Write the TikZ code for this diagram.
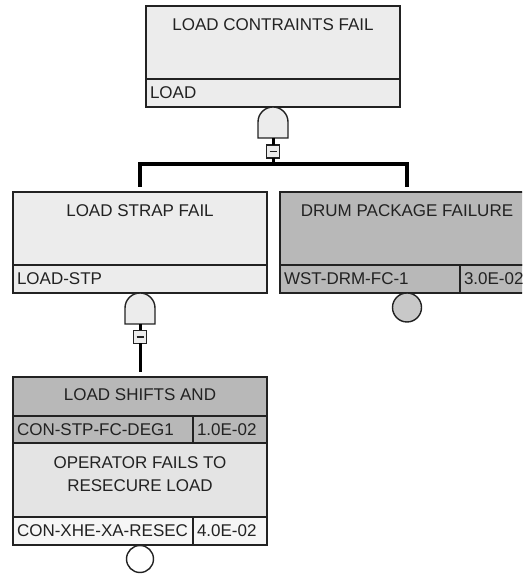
\documentclass[tikz,border=0pt]{standalone}
\usepackage{fontspec}
\setmainfont{Liberation Sans}
\usetikzlibrary{positioning}
\definecolor{colEdge}{RGB}{34,34,34}
\definecolor{colPale}{RGB}{236,236,236}
\definecolor{colGray}{RGB}{184,184,184}
\definecolor{colMid}{RGB}{228,228,228}
\definecolor{colWhite}{RGB}{246,246,246}
\definecolor{colDot}{RGB}{200,200,200}
\tikzset{
  % shared base for every cell
  cell/.style={
    rectangle, draw=colEdge, line width=2pt,
    fill=#1, inner sep=0pt, outer sep=0pt,
    text=colEdge, font=\fontsize{17}{23}\selectfont,
  },
  % cell shortcuts
  cTitle/.style ={cell=#1, minimum width=254pt, minimum height=73pt},
  cId/.style    ={cell=#1, minimum height=28pt, inner xsep=4pt, align=left},
  ttl/.style    ={inner sep=0pt, outer sep=0pt, text=colEdge, align=center,
                  font=\fontsize{17}{23}\selectfont},
  % gates and events
  gateBox/.style ={minimum width=30pt, minimum height=31pt, inner sep=0pt, outer sep=0pt},
  gateLine/.style={draw=colEdge, line width=1.4pt, fill=colPale},
  minusBox/.style={rectangle, draw=colEdge, line width=1.2pt, fill=colPale,
                   minimum size=13pt, inner sep=0pt, outer sep=0pt,
                   path picture={\draw[line width=1.6pt, colEdge]
                     ([xshift=-3.5pt]path picture bounding box.center) -- ++(7pt,0);}},
  basicEvt/.style={circle, draw=colEdge, line width=1.4pt, fill=#1,
                   minimum size=29pt, inner sep=0pt, outer sep=0pt},
  % connectors
  bus/.style ={draw=black, line width=4pt},
  link/.style={draw=black, line width=3pt},
}
\begin{document}
\begin{tikzpicture}[x=1pt, y=1pt]
\clip (0,0) rectangle (522,578);
\fill[white] (0,0) rectangle (522,578);

% --- top event: LOAD CONTRAINTS FAIL
\node[cTitle=colPale] (top) at (273,535.5) {};
\node[ttl, below=13pt of top.north] (topT) {LOAD CONTRAINTS FAIL};
\node[cId=colPale, text width=246pt, below=0pt of top] (topId) {LOAD};

% AND gate under the top event
\node[gateBox, below=0pt of topId] (g1) {};
\draw[gateLine] (g1.south west) -- ++(0,16) arc[start angle=180, end angle=0, radius=15]
  -- (g1.south east) -- cycle;
\node[minusBox] (sq1) at (273,426.5) {};
\coordinate (bus1) at (273,413.5);

% --- LOAD STRAP FAIL
\node[cTitle=colPale] (strap) at (140,349.5) {};
\node[ttl, below=13pt of strap.north] (strapT) {LOAD STRAP FAIL};
\node[cId=colPale, text width=246pt, below=0pt of strap] (strapId) {LOAD-STP};

% --- DRUM PACKAGE FAILURE
\node[cTitle=colGray] (drum) at (407,349.5) {};
\node[ttl, below=13pt of drum.north] (drumT) {DRUM PACKAGE FAILURE};
\node[cId=colGray, text width=172pt, anchor=north west] (drumId) at (drum.south west) {WST-DRM-FC-1};
\node[cId=colGray, text width=66pt, right=0pt of drumId] (drumP) {3.0E-02};
\node[basicEvt=colDot] (drumC) at (407,270.5) {};

% AND gate under LOAD STRAP FAIL
\node[gateBox, below=0pt of strapId] (g2) {};
\draw[gateLine] (g2.south west) -- ++(0,16) arc[start angle=180, end angle=0, radius=15]
  -- (g2.south east) -- cycle;
\node[minusBox] (sq2) at (140,241) {};

% --- LOAD SHIFTS AND / OPERATOR FAILS TO RESECURE LOAD
\node[cTitle=colGray, minimum height=39pt] (shifts) at (140,181.5) {};
\node[ttl, below=12pt of shifts.north] (shiftsT) {LOAD SHIFTS AND};
\node[cId=colGray, text width=172pt, minimum height=27pt, anchor=north west] (shiftsId) at (shifts.south west) {CON-STP-FC-DEG1};
\node[cId=colGray, text width=66pt, minimum height=27pt, right=0pt of shiftsId] (shiftsP) {1.0E-02};
\node[cTitle=colMid, minimum height=74pt, anchor=north west] (oper) at (shiftsId.south west) {};
\node[ttl, below=14pt of oper.north] (operT) {OPERATOR FAILS TO\\RESECURE LOAD};
\node[cId=colWhite, text width=172pt, anchor=north west] (operId) at (oper.south west) {CON-XHE-XA-RESEC};
\node[cId=colWhite, text width=66pt, right=0pt of operId] (operP) {4.0E-02};
\node[basicEvt=white, minimum size=27pt] (operC) at (140,19) {};

% --- connectors
\draw[link] (g1.south) -- (sq1);
\draw[link] (sq1) -- (bus1);
\draw[bus] ([yshift=5pt]strap.north) |- (bus1) -| ([yshift=5pt]drum.north);
\draw[link] (g2.south) -- (sq2);
\draw[link] (sq2) -- ([yshift=5pt]shifts.north);

\end{tikzpicture}
\end{document}
